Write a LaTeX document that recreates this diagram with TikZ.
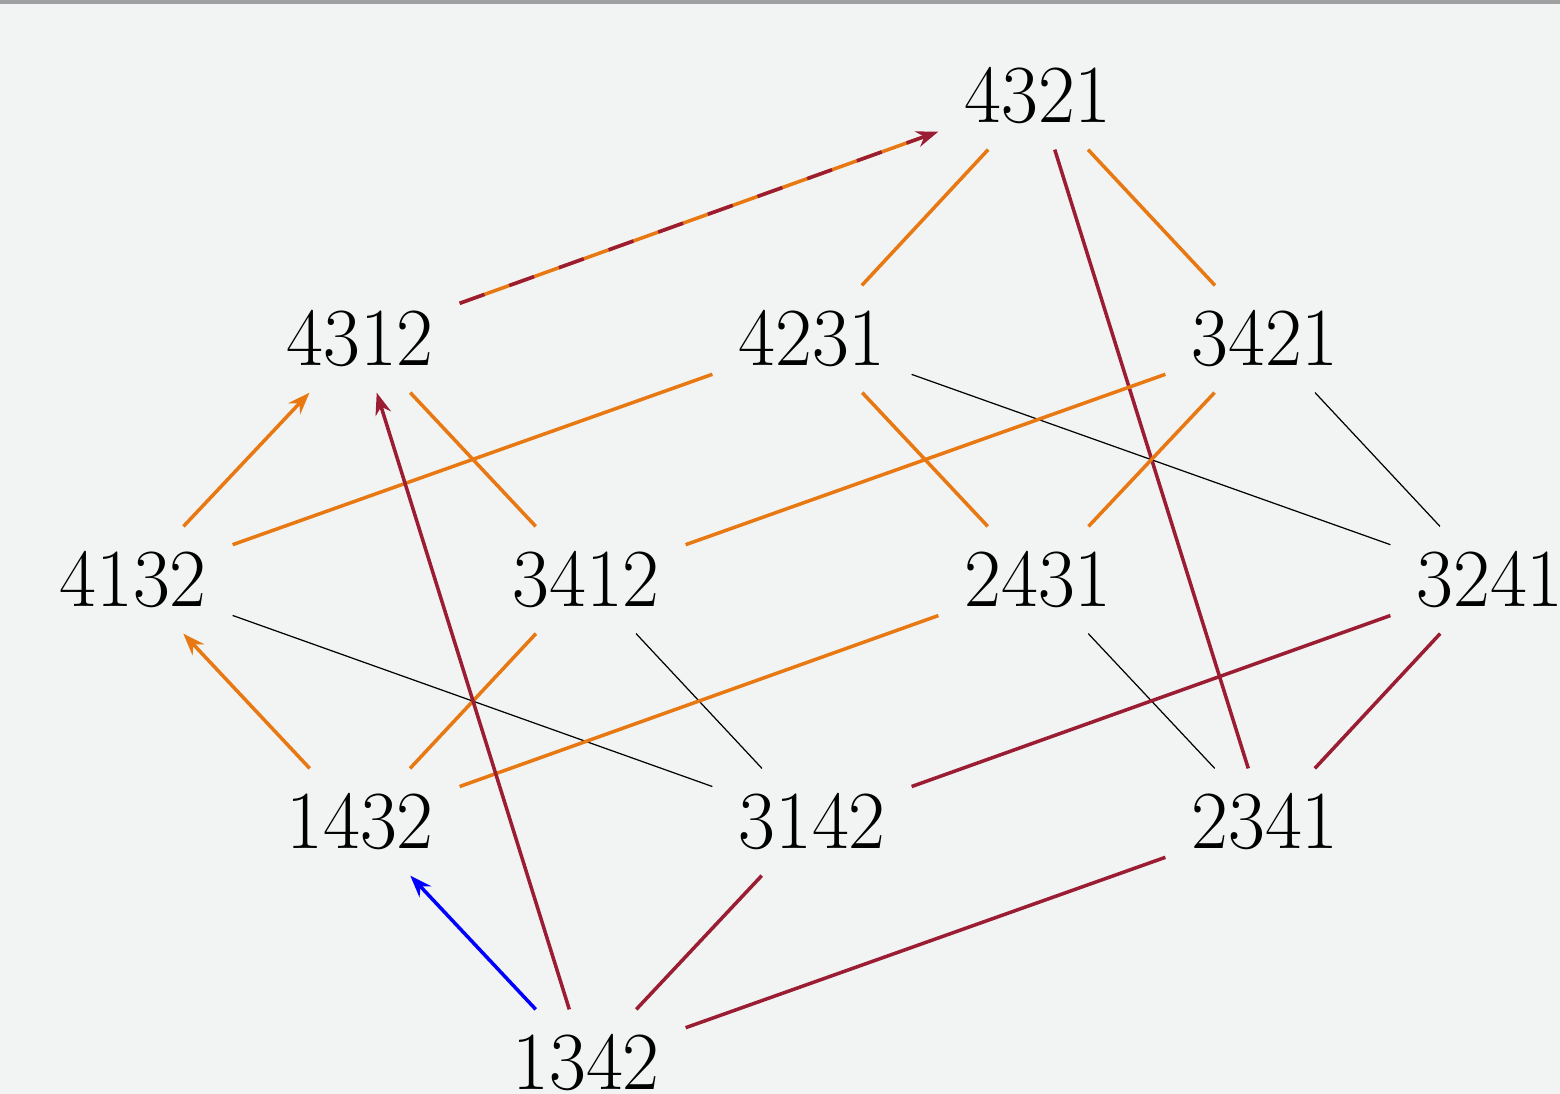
\documentclass[tikz,border=0pt]{standalone}
\usepackage{graphicx}
\usetikzlibrary{arrows.meta}

\definecolor{bgpanel}{RGB}{242,244,243}
\definecolor{topbar}{RGB}{160,160,162}
\definecolor{ochre}{RGB}{232,121,18}
\definecolor{wine}{RGB}{155,29,51}
\newcommand{\tallnum}[1]{\scalebox{1}[1.03]{#1}}

\begin{document}
\begin{tikzpicture}[
    x=0.01cm, y=-0.01cm,
    perm/.style={inner xsep=7.4pt, inner ysep=7.2pt, outer sep=0pt, font=\fontsize{22.8pt}{27pt}\selectfont},
    oe/.style={draw=ochre, line width=1pt},
    we/.style={draw=wine, line width=1pt},
    be/.style={draw=blue, line width=1pt},
    ke/.style={draw=black, line width=0.35pt},
    tip/.style={-{Stealth[length=2.2mm, width=1.6mm]}}
]
    \useasboundingbox (0,0) rectangle (1560,1094);
    \fill[bgpanel] (0,0) rectangle (1560,1094);
    \fill[topbar] (0,0) rectangle (1560,4);
    \clip (0,0) rectangle (1560,1094);

    % permutations, rank by rank
    \node[perm] (p4321) at (1038,96) {\tallnum{4321}};

    \node[perm] (p4312) at (360,339) {\tallnum{4312}};
    \node[perm] (p4231) at (812,339) {\tallnum{4231}};
    \node[perm] (p3421) at (1265,339) {\tallnum{3421}};

    \node[perm] (p4132) at (133,580) {\tallnum{4132}};
    \node[perm] (p3412) at (586,580) {\tallnum{3412}};
    \node[perm] (p2431) at (1038,580) {\tallnum{2431}};
    \node[perm] (p3241) at (1490,580) {\tallnum{3241}};

    \node[perm] (p1432) at (360,822) {\tallnum{1432}};
    \node[perm] (p3142) at (812,822) {\tallnum{3142}};
    \node[perm] (p2341) at (1265,822) {\tallnum{2341}};

    \node[perm] (p1342) at (586,1063) {\tallnum{1342}};

    % top
    \draw[oe, shorten >=1.5mm] (p4312) -- (p4321);
    \draw[we, tip, dash pattern=on 7.5pt off 7.5pt] (p4312) -- (p4321);
    \draw[oe] (p4321) -- (p4231);
    \draw[oe] (p4321) -- (p3421);
    \draw[we] (p4321) -- (p2341);

    % second rank
    \draw[oe] (p4312) -- (p3412);
    \draw[oe] (p4231) -- (p4132);
    \draw[oe] (p4231) -- (p2431);
    \draw[ke] (p4231) -- (p3241);
    \draw[oe] (p3421) -- (p3412);
    \draw[oe] (p3421) -- (p2431);
    \draw[ke] (p3421) -- (p3241);

    % third rank
    \draw[oe, tip] (p4132) -- (p4312);
    \draw[ke] (p4132) -- (p3142);
    \draw[oe] (p3412) -- (p1432);
    \draw[ke] (p3412) -- (p3142);
    \draw[oe] (p2431) -- (p1432);
    \draw[ke] (p2431) -- (p2341);
    \draw[we] (p3241) -- (p3142);
    \draw[we] (p3241) -- (p2341);

    % fourth rank
    \draw[oe, tip] (p1432) -- (p4132);

    % bottom
    \draw[be, tip] (p1342) -- (p1432);
    \draw[we, tip] (p1342) -- (p4312);
    \draw[we] (p1342) -- (p3142);
    \draw[we] (p1342) -- (p2341);
\end{tikzpicture}
\end{document}
